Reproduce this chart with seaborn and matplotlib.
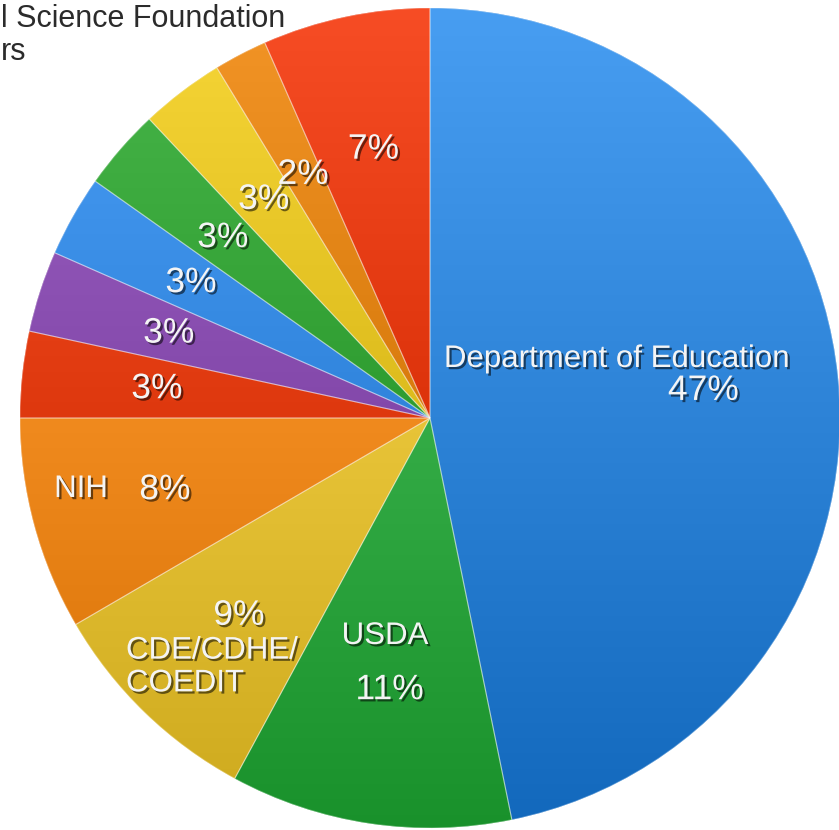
import matplotlib
matplotlib.use("Agg")
import matplotlib.pyplot as plt
import matplotlib.patheffects as pe
from matplotlib.colors import to_rgb
from matplotlib.patches import Wedge
import numpy as np
import seaborn as sns

# ---------------- data ----------------
categories = ["Department of Education", "USDA", "CDE/CDHE/\nCOEDIT", "NIH",
              "", "", "", "", "", "", ""]
shares = [46.8, 11.1, 8.7, 8.4, 3.4, 3.2, 3.2, 3.2, 3.3, 2.1, 6.6]
slice_colors = ["#2d83d7", "#34ac46", "#e8c438", "#f08a1e", "#de380e",
                "#8348aa", "#3084dc", "#2e9c30", "#dcbb1c", "#d87a0c", "#dc320a"]
outside_labels = ["l Science Foundation", "rs"]

# ---------------- style ----------------
sns.set_theme(style="white")
plt.rcParams['font.family'] = ['Liberation Sans', 'DejaVu Sans']
palette = sns.color_palette(slice_colors)

W, H = 839, 830
CX, CY, R = 430, 418, 410  # pie centre / radius in pixels

fig = plt.figure(figsize=(W / 100, H / 100), dpi=100)
ax = fig.add_axes([0, 0, 1, 1])

shadow = [pe.SimplePatchShadow(offset=(1.6, -1.6), shadow_rgbFace="black", alpha=0.55),
          pe.Normal()]

wedges, _, autotexts = ax.pie(
    shares, colors=palette, startangle=90, counterclock=False, radius=1,
    autopct=lambda p: f"{p:.0f}%", pctdistance=0.67,
    wedgeprops=dict(linewidth=0),
    textprops=dict(color="#f4f4f4", fontsize=25.5),
)
for t in autotexts:
    t.set_path_effects(shadow)
    t.set_zorder(6)

# vertical light-to-dark gloss for every wedge (additive brightness shift)
yy = np.linspace(1, -1, 256)
for w, c in zip(wedges, palette):
    base = np.array(to_rgb(c))
    img = np.clip(base[None, :] + 0.105 * yy[:, None], 0, 1)
    img = img[:, None, :].repeat(2, axis=1)
    im = ax.imshow(img, extent=[-1, 1, -1, 1], origin="upper", aspect="auto",
                   zorder=2, interpolation="bilinear")
    im.set_clip_path(w)
    edge = Wedge(w.center, w.r, w.theta1, w.theta2, facecolor="none",
                 edgecolor=(1, 1, 1, 0.35), linewidth=0.8, zorder=3)
    ax.add_patch(edge)

# ---------------- category labels ----------------
def px2d(px, py):
    return (px - CX) / R, (CY - py) / R

name_pos = {
    0: ((617, 359), "center"),
    1: ((385, 636), "center"),
    2: ((126, 667), "left"),
    3: ((81, 489), "center"),
}
for idx, ((px, py), ha) in name_pos.items():
    x, y = px2d(px, py)
    ax.text(x, y, categories[idx], ha=ha, va="center", fontsize=22.5,
            color="#f4f4f4", linespacing=1.12, path_effects=shadow, zorder=6)

ax.set_xlim(-CX / R, (W - CX) / R)
ax.set_ylim(-(H - CY) / R, CY / R)
ax.set_aspect("equal")
ax.axis("off")

# labels at the top-left edge, as far as the source shows them
fig.text(1 / W, 1 - 27 / H, outside_labels[0], ha="left", va="baseline",
         fontsize=22, color="#2b2b2b")
fig.text(1 / W, 1 - 60 / H, outside_labels[1], ha="left", va="baseline",
         fontsize=22, color="#2b2b2b")

fig.savefig("out.png", dpi=100, facecolor="white")
